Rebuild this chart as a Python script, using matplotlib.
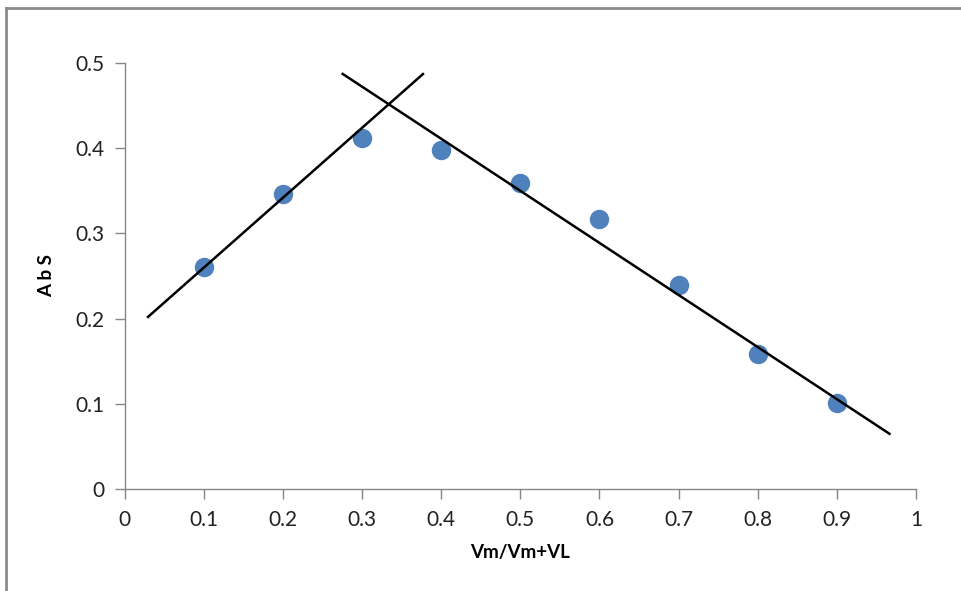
import matplotlib
matplotlib.use("Agg")
import matplotlib.pyplot as plt
from matplotlib.lines import Line2D

# data
x_ratio = [0.1, 0.2, 0.3, 0.4, 0.5, 0.6, 0.7, 0.8, 0.9]
absorb = [0.260, 0.346, 0.412, 0.398, 0.359, 0.317, 0.239, 0.158, 0.101]

# hand-drawn fit lines (end points)
rise_x = [0.028, 0.378]
rise_y = [0.201, 0.488]
fall_x = [0.274, 0.968]
fall_y = [0.488, 0.064]

xticks = [0, 0.1, 0.2, 0.3, 0.4, 0.5, 0.6, 0.7, 0.8, 0.9, 1]
xtick_labels = ["0", "0.1", "0.2", "0.3", "0.4", "0.5", "0.6", "0.7", "0.8", "0.9", "1"]
yticks = [0, 0.1, 0.2, 0.3, 0.4, 0.5]
ytick_labels = ["0", "0.1", "0.2", "0.3", "0.4", "0.5"]

plt.rcParams['font.family'] = ['Lato', 'DejaVu Sans']

fig = plt.figure(figsize=(9.61, 5.91), dpi=100)
ax = fig.add_axes([0.130, 0.1726, 0.823, 0.7208])

ax.plot(rise_x, rise_y, color='black', lw=1.8, solid_capstyle='butt', zorder=3)
ax.plot(fall_x, fall_y, color='black', lw=1.8, solid_capstyle='butt', zorder=3)
ax.plot(x_ratio, absorb, 'o', color='#4F81BD', markersize=14,
        markeredgewidth=0, zorder=2)

ax.set_xlim(0, 1)
ax.set_ylim(0, 0.5)
ax.set_xticks(xticks)
ax.set_xticklabels(xtick_labels)
ax.set_yticks(yticks)
ax.set_yticklabels(ytick_labels)

for s in ['top', 'right']:
    ax.spines[s].set_visible(False)
for s in ['left', 'bottom']:
    ax.spines[s].set_color('#868686')
    ax.spines[s].set_linewidth(1.0)
ax.tick_params(direction='out', length=7, width=1.0, color='#868686',
               labelsize=15, labelcolor='#222222', pad=8)

ax.set_xlabel("Vm/Vm+VL", fontsize=13.5, fontweight='bold', labelpad=10)
ax.set_ylabel("A b S", fontsize=13.5, fontweight='bold', labelpad=14)

# outer chart border
fig.add_artist(Line2D([5.5 / 961, 5.5 / 961], [0, 1 - 8 / 591],
                      transform=fig.transFigure, color='#8c8c8c', lw=2))
fig.add_artist(Line2D([5.5 / 961, 1], [1 - 8 / 591, 1 - 8 / 591],
                      transform=fig.transFigure, color='#8c8c8c', lw=2))

fig.savefig("out.png", dpi=100)
